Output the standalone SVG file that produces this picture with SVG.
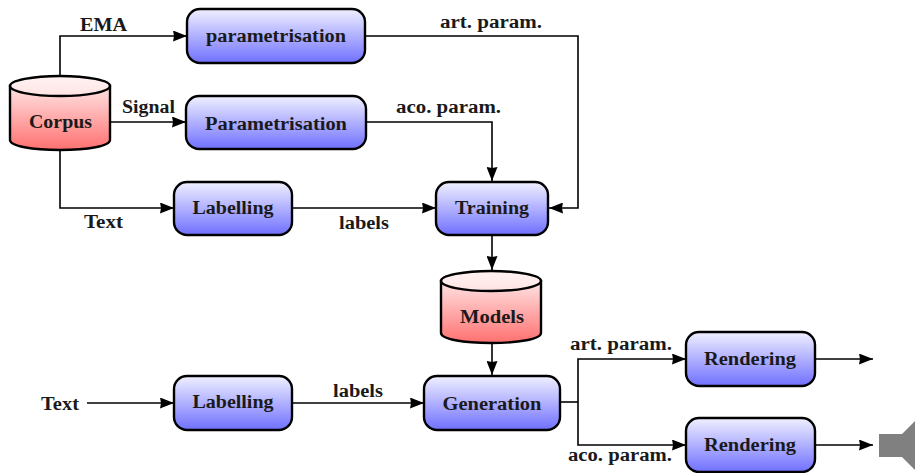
<svg xmlns="http://www.w3.org/2000/svg" width="915" height="473" viewBox="0 0 915 473">
<style>
.n{stroke:#000;stroke-width:2.4;fill:url(#b)}
.c{stroke:#000;stroke-width:2.4;fill:url(#r)}
.t{stroke:#000;stroke-width:2.4;fill:url(#rt)}
.l{stroke:#000;stroke-width:1.6;fill:none;marker-end:url(#a)}
.p{stroke:#000;stroke-width:1.6;fill:none}
text{font-family:"Liberation Serif","DejaVu Serif",serif;font-weight:bold;font-size:18px;fill:#1a1a1a;text-anchor:middle}
</style>
<defs>
<linearGradient id="b" x1="0" y1="0" x2="0" y2="1"><stop offset="0" stop-color="#f0f0ff"/><stop offset="1" stop-color="#7070ff"/></linearGradient>
<linearGradient id="r" x1="0" y1="0" x2="0" y2="1"><stop offset="0" stop-color="#ffe4e4"/><stop offset="1" stop-color="#ff7070"/></linearGradient>
<linearGradient id="rt" x1="0" y1="0" x2="0" y2="1"><stop offset="0" stop-color="#fff2f2"/><stop offset="1" stop-color="#ffe4e4"/></linearGradient>
<marker id="a" markerUnits="userSpaceOnUse" markerWidth="14" markerHeight="11" refX="14" refY="5.5" orient="auto"><path d="M0 0L14 5.5L0 11L1 5.5Z" fill="#000"/></marker>
</defs>
<g id="connectors">
<path class="l" d="M60 76V36H187"/>
<path class="l" d="M110 122H186"/>
<path class="l" d="M60 150V208H174"/>
<path class="l" d="M365 36H578V208H549"/>
<path class="l" d="M366 122H492V181"/>
<path class="l" d="M292 208H436"/>
<path class="l" d="M492 235V270"/>
<path class="l" d="M492 343V375"/>
<path class="l" d="M87 403H174"/>
<path class="l" d="M292 403H424"/>
<path class="p" d="M560 402H578"/>
<path class="l" d="M578 402V359H686"/>
<path class="l" d="M578 402V445H686"/>
<path class="l" d="M815 359H873"/>
<path class="l" d="M815 445H873"/>
</g>
<g id="corpus"><path class="c" d="M10 86V140C10 146 32 150 60 150S110 146 110 140V86Z"/><ellipse class="t" cx="60" cy="86" rx="50" ry="10"/><text x="60.500" y="127.500" textLength="63" lengthAdjust="spacingAndGlyphs">Corpus</text></g>
<g id="models"><path class="c" d="M441 281V333C441 339 463 343 491 343S541 339 541 333V281Z"/><ellipse class="t" cx="491" cy="281" rx="50" ry="10"/><text x="492" y="322.500" textLength="64" lengthAdjust="spacingAndGlyphs">Models</text></g>
<g id="param1"><rect class="n" x="187" y="9" width="178" height="54" rx="13"/><text x="276" y="41.500" textLength="140" lengthAdjust="spacingAndGlyphs">parametrisation</text></g>
<g id="param2"><rect class="n" x="186" y="96" width="180" height="53" rx="13"/><text x="276" y="129.500" textLength="142" lengthAdjust="spacingAndGlyphs">Parametrisation</text></g>
<g id="label1"><rect class="n" x="174" y="182" width="118" height="53" rx="13"/><text x="233" y="213.500" textLength="81" lengthAdjust="spacingAndGlyphs">Labelling</text></g>
<g id="training"><rect class="n" x="436" y="182" width="112" height="53" rx="13"/><text x="492" y="213.500" textLength="74" lengthAdjust="spacingAndGlyphs">Training</text></g>
<g id="label2"><rect class="n" x="174" y="376" width="118" height="54" rx="13"/><text x="233" y="407.500" textLength="81" lengthAdjust="spacingAndGlyphs">Labelling</text></g>
<g id="generation"><rect class="n" x="424" y="376" width="136" height="54" rx="13"/><text x="492" y="409.500" textLength="99" lengthAdjust="spacingAndGlyphs">Generation</text></g>
<g id="render1"><rect class="n" x="686" y="332" width="129" height="54" rx="13"/><text x="750" y="364.500" textLength="92" lengthAdjust="spacingAndGlyphs">Rendering</text></g>
<g id="render2"><rect class="n" x="686" y="418" width="129" height="54" rx="13"/><text x="750" y="450.500" textLength="92" lengthAdjust="spacingAndGlyphs">Rendering</text></g>
<g id="speaker"><path d="M879 434H902L915 421V473H918L902 457H879Z" fill="#808080"/></g>
<g id="labels">
<text x="103.500" y="30.500" textLength="47" lengthAdjust="spacingAndGlyphs">EMA</text>
<text x="148.500" y="112.500" textLength="53" lengthAdjust="spacingAndGlyphs">Signal</text>
<text x="103.500" y="227.500" textLength="39" lengthAdjust="spacingAndGlyphs">Text</text>
<text x="491" y="27.500" textLength="102" lengthAdjust="spacingAndGlyphs">art. param.</text>
<text x="448.500" y="112.500" textLength="105" lengthAdjust="spacingAndGlyphs">aco. param.</text>
<text x="364" y="228.500" textLength="50" lengthAdjust="spacingAndGlyphs">labels</text>
<text x="60" y="409.500" textLength="38" lengthAdjust="spacingAndGlyphs">Text</text>
<text x="358" y="396.500" textLength="50" lengthAdjust="spacingAndGlyphs">labels</text>
<text x="621" y="349.500" textLength="102" lengthAdjust="spacingAndGlyphs">art. param.</text>
<text x="620" y="460.500" textLength="104" lengthAdjust="spacingAndGlyphs">aco. param.</text>
</g>
</svg>
